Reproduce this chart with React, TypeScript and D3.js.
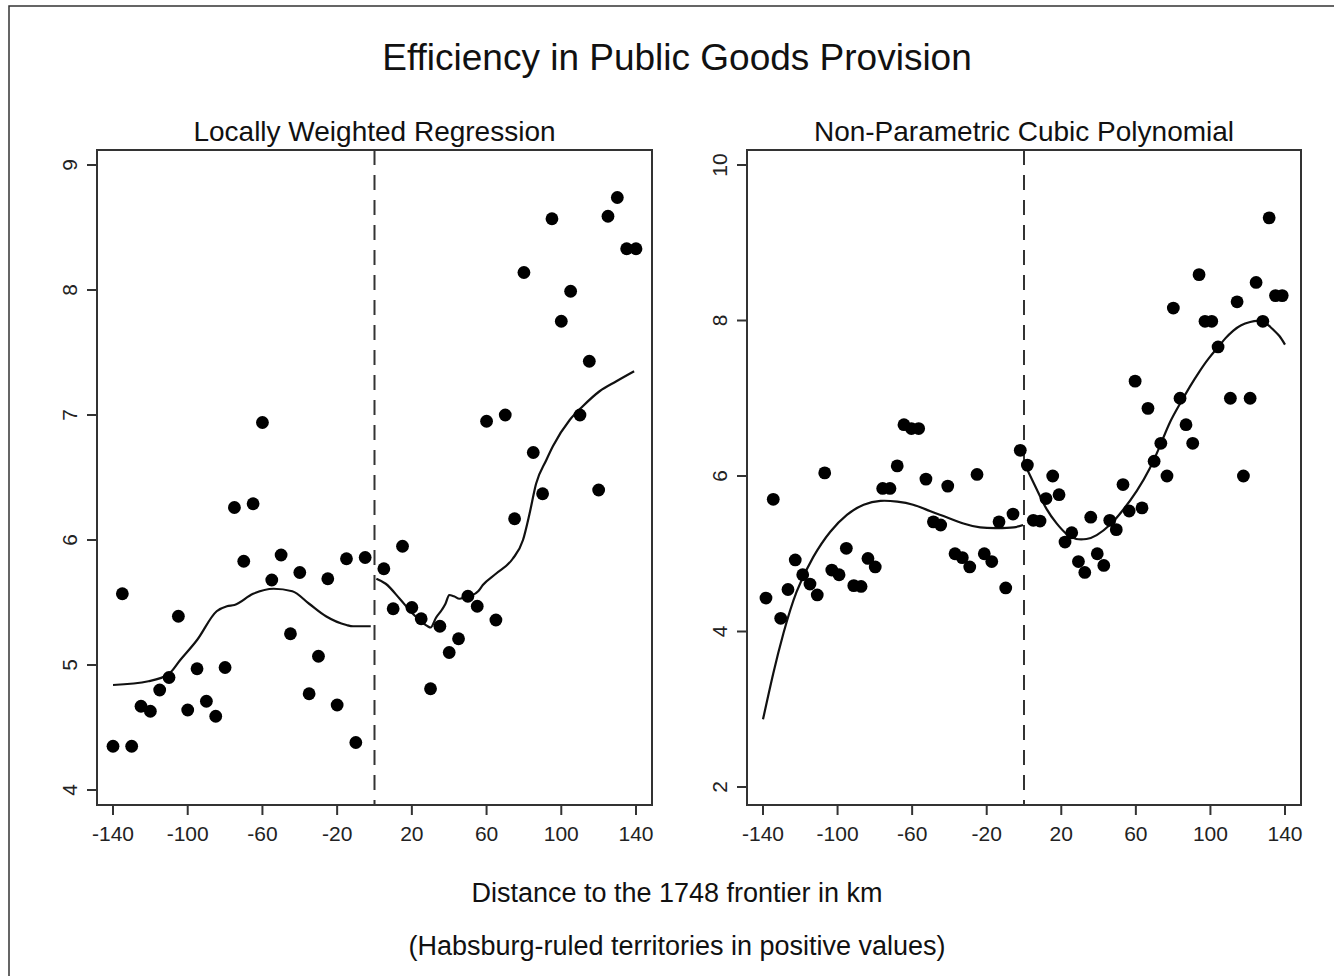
import { useEffect, useRef } from 'react';
import * as d3 from 'd3';

// Locally weighted regression panel: binned means, 5 km bins
const lwrX = [
  -140, -135, -130, -125, -120, -115, -110, -105, -100, -95, -90, -85, -80, -75, -70, -65, -60, -55, -50, -45,
  -40, -35, -30, -25, -20, -15, -10, -5, 5, 10, 15, 20, 25, 30, 35, 40, 45, 50, 55, 60, 65, 70, 75, 80, 85, 90,
  95, 100, 105, 110, 115, 120, 125, 130, 135, 140,
];
const lwrY = [
  4.35, 5.57, 4.35, 4.67, 4.63, 4.8, 4.9, 5.39, 4.64, 4.97, 4.71, 4.59, 4.98, 6.26, 5.83, 6.29, 6.94, 5.68, 5.88,
  5.25, 5.74, 4.77, 5.07, 5.69, 4.68, 5.85, 4.38, 5.86, 5.77, 5.45, 5.95, 5.46, 5.37, 4.81, 5.31, 5.1, 5.21, 5.55,
  5.47, 6.95, 5.36, 7.0, 6.17, 8.14, 6.7, 6.37, 8.57, 7.75, 7.99, 7.0, 7.43, 6.4, 8.59, 8.74, 8.33, 8.33,
];
// lowess fit
const lwrFitLeftX = [-140, -121, -110, -104, -95, -84.5, -79, -75, -65, -54, -44, -35, -26, -15, -11.5, -2];
const lwrFitLeftY = [4.84, 4.87, 4.93, 5.04, 5.2, 5.43, 5.47, 5.48, 5.57, 5.61, 5.59, 5.49, 5.39, 5.32, 5.31, 5.31];
const lwrFitRightX = [
  1, 6, 13.5, 20.5, 28.5, 30, 33, 36, 38, 40, 42.5, 45.5, 49, 52.5, 55.5, 58, 65, 74, 79.5, 83, 86.5, 92, 95.5,
  104.5, 111.5, 120.5, 129.5, 139,
];
const lwrFitRightY = [
  5.69, 5.65, 5.53, 5.41, 5.31, 5.3, 5.38, 5.44, 5.49, 5.56, 5.55, 5.53, 5.55, 5.56, 5.59, 5.64, 5.73, 5.85, 6.0,
  6.21, 6.45, 6.64, 6.75, 6.96, 7.07, 7.19, 7.27, 7.35,
];

// Cubic polynomial panel: finer bins
const cubicX = [
  -138.4, -134.5, -130.5, -126.6, -122.7, -118.7, -114.8, -110.9, -106.9, -103.1, -99.2, -95.3, -91.3, -87.4,
  -83.7, -79.8, -75.8, -71.9, -68, -64.4, -60.4, -56.5, -52.6, -48.6, -44.7, -40.9, -37, -33.1, -29.1, -25.2,
  -21.3, -17.3, -13.4, -9.8, -5.9, -2, 1.8, 5, 8.6, 11.8, 15.4, 18.8, 22, 25.6, 29.2, 32.6, 35.8, 39.3, 42.8, 46,
  49.5, 53.1, 56.4, 59.6, 63.3, 66.5, 69.8, 73.4, 76.7, 80.1, 83.7, 86.9, 90.5, 93.9, 97.1, 100.7, 104.1, 110.7,
  114.3, 117.7, 121.3, 124.5, 128.1, 131.5, 134.9, 138.5,
];
const cubicY = [
  4.43, 5.7, 4.17, 4.54, 4.92, 4.73, 4.61, 4.47, 6.04, 4.79, 4.73, 5.07, 4.59, 4.58, 4.94, 4.83, 5.84, 5.84, 6.13,
  6.66, 6.61, 6.61, 5.96, 5.41, 5.37, 5.87, 5.0, 4.95, 4.83, 6.02, 5.0, 4.9, 5.41, 4.56, 5.51, 6.33, 6.14, 5.43,
  5.42, 5.71, 6.0, 5.76, 5.15, 5.27, 4.9, 4.76, 5.47, 5.0, 4.85, 5.43, 5.31, 5.89, 5.55, 7.22, 5.59, 6.87, 6.19,
  6.42, 6.0, 8.16, 7.0, 6.66, 6.42, 8.59, 7.99, 7.99, 7.66, 7.0, 8.24, 6.0, 7.0, 8.49, 7.99, 9.32, 8.32, 8.32,
];
const cubicFitLeftX = [-140, -134.5, -129, -122, -113, -104, -95, -86, -77, -68, -59.5, -50.5, -41.5, -32.5, -23.5, -14.5, -5.5, -0.5];
const cubicFitLeftY = [2.87, 3.46, 3.98, 4.51, 4.96, 5.28, 5.5, 5.63, 5.68, 5.67, 5.63, 5.55, 5.47, 5.39, 5.34, 5.33, 5.34, 5.37];
const cubicFitRightX = [
  1, 7, 12, 17.5, 23, 28, 33.5, 39, 46, 53, 60.5, 67.5, 73.5, 78.5, 83.7, 89, 94, 99, 104.2, 108, 112.3, 116.5,
  121.3, 125, 128.1, 131, 133.8, 137, 140,
];
const cubicFitRightY = [
  6.12, 5.82, 5.58, 5.39, 5.25, 5.19, 5.19, 5.24, 5.37, 5.56, 5.81, 6.1, 6.42, 6.7, 6.93, 7.15, 7.34, 7.51, 7.66,
  7.77, 7.87, 7.94, 7.98, 7.995, 7.98, 7.94, 7.88, 7.8, 7.69,
];

const xTicks = [-140, -100, -60, -20, 20, 60, 100, 140];
const lwrYTicks = [4, 5, 6, 7, 8, 9];
const cubicYTicks = [2, 4, 6, 8, 10];

const FONT = '"Liberation Sans", Arial, sans-serif';
const INK = '#333';

type Panel = {
  title: string;
  box: [number, number, number, number]; // left, top, right, bottom
  xRange: [number, number];
  yDomain: [number, number];
  yRange: [number, number];
  yTicks: number[];
  xs: number[];
  ys: number[];
  fits: [number[], number[]][];
  curve: d3.CurveFactory;
};

const panels: Panel[] = [
  {
    title: 'Locally Weighted Regression',
    box: [97, 150, 652, 805],
    xRange: [113, 636],
    yDomain: [4, 9],
    yRange: [790, 165],
    yTicks: lwrYTicks,
    xs: lwrX,
    ys: lwrY,
    fits: [
      [lwrFitLeftX, lwrFitLeftY],
      [lwrFitRightX, lwrFitRightY],
    ],
    curve: d3.curveMonotoneX,
  },
  {
    title: 'Non-Parametric Cubic Polynomial',
    box: [747, 150, 1301, 805],
    xRange: [763, 1285],
    yDomain: [2, 10],
    yRange: [787, 165],
    yTicks: cubicYTicks,
    xs: cubicX,
    ys: cubicY,
    fits: [
      [cubicFitLeftX, cubicFitLeftY],
      [cubicFitRightX, cubicFitRightY],
    ],
    curve: d3.curveNatural,
  },
];

function Chart() {
  const svgRef = useRef<SVGSVGElement>(null);

  useEffect(() => {
    if (!svgRef.current) return;
    const svg = d3.select(svgRef.current);
    svg.selectAll('*').remove();

    // outer frame
    svg.append('rect').attr('x', 9).attr('y', 6).attr('width', 1340).attr('height', 1000)
      .attr('fill', 'none').attr('stroke', INK).attr('stroke-width', 1.5);

    svg.append('text').attr('x', 677).attr('y', 70).attr('text-anchor', 'middle')
      .attr('font-family', FONT).attr('font-size', 37).attr('fill', '#111')
      .text('Efficiency in Public Goods Provision');

    panels.forEach((p) => {
      const [l, t, r, b] = p.box;
      const x = d3.scaleLinear().domain([-140, 140]).range(p.xRange);
      const y = d3.scaleLinear().domain(p.yDomain).range(p.yRange);
      const g = svg.append('g');

      g.append('text').attr('x', (l + r) / 2).attr('y', 141).attr('text-anchor', 'middle')
        .attr('font-family', FONT).attr('font-size', 28).attr('fill', '#111').text(p.title);

      // cutoff at the frontier
      g.append('line').attr('x1', x(0)).attr('x2', x(0)).attr('y1', t).attr('y2', b)
        .attr('stroke', INK).attr('stroke-width', 2).attr('stroke-dasharray', '15,10');

      const line = d3.line<[number, number]>().x((d) => x(d[0])).y((d) => y(d[1])).curve(p.curve);
      p.fits.forEach(([fx, fy]) => {
        g.append('path').attr('d', line(fx.map((v, i) => [v, fy[i]] as [number, number])))
          .attr('fill', 'none').attr('stroke', '#111').attr('stroke-width', 2.2);
      });

      g.selectAll('circle').data(p.xs).join('circle')
        .attr('cx', (d) => x(d)).attr('cy', (_, i) => y(p.ys[i])).attr('r', 6.4).attr('fill', '#000');

      g.append('rect').attr('x', l).attr('y', t).attr('width', r - l).attr('height', b - t)
        .attr('fill', 'none').attr('stroke', INK).attr('stroke-width', 2);

      // x axis
      xTicks.forEach((v) => {
        g.append('line').attr('x1', x(v)).attr('x2', x(v)).attr('y1', b).attr('y2', b + 10)
          .attr('stroke', INK).attr('stroke-width', 2);
        g.append('text').attr('x', x(v)).attr('y', 841).attr('text-anchor', 'middle')
          .attr('font-family', FONT).attr('font-size', 21).attr('fill', '#222').text(String(v));
      });

      // y axis
      p.yTicks.forEach((v) => {
        g.append('line').attr('x1', l - 10).attr('x2', l).attr('y1', y(v)).attr('y2', y(v))
          .attr('stroke', INK).attr('stroke-width', 2);
        g.append('text').attr('transform', `translate(${l - 20},${y(v)}) rotate(-90)`)
          .attr('text-anchor', 'middle').attr('font-family', FONT).attr('font-size', 21).attr('fill', '#222')
          .text(String(v));
      });
    });

    svg.append('text').attr('x', 677).attr('y', 902).attr('text-anchor', 'middle')
      .attr('font-family', FONT).attr('font-size', 27).attr('fill', '#111')
      .text('Distance to the 1748 frontier in km');
    svg.append('text').attr('x', 677).attr('y', 955).attr('text-anchor', 'middle')
      .attr('font-family', FONT).attr('font-size', 27).attr('fill', '#111')
      .text('(Habsburg-ruled territories in positive values)');
  }, []);

  return <svg ref={svgRef} width={1334} height={976} style={{ display: 'block', background: '#fff' }} />;
}

export default function App() {
  return (
    <div style={{ position: 'absolute', left: 0, top: 0 }}>
      <Chart />
    </div>
  );
}
